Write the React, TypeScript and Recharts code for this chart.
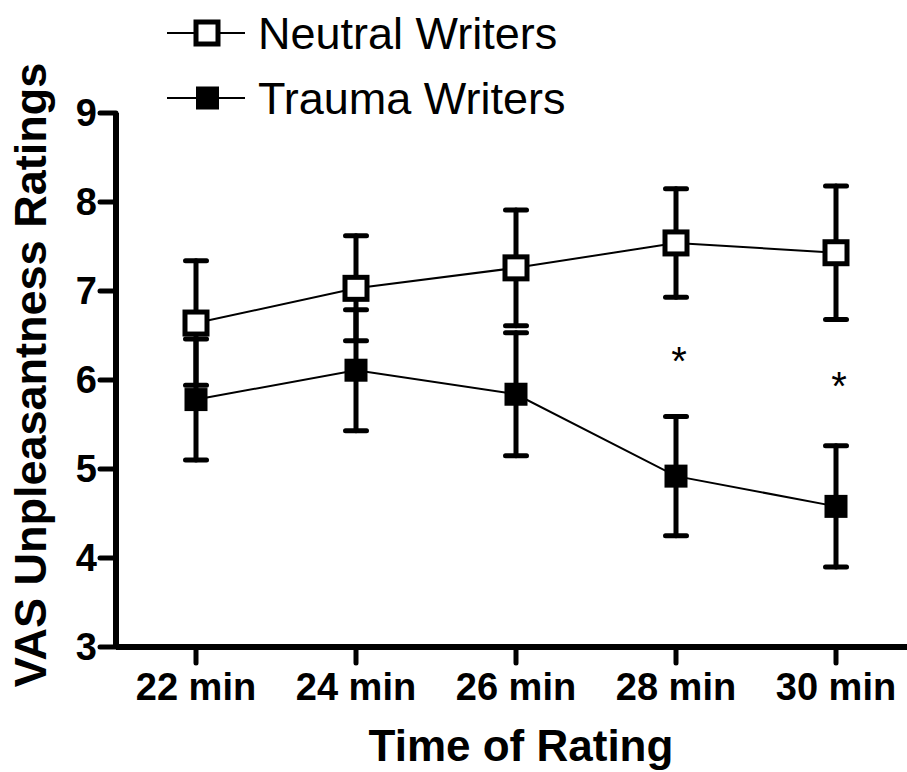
import React from 'react';
import { LineChart, Line, XAxis, YAxis, ErrorBar, Legend, Label } from 'recharts';

const times = ['22 min', '24 min', '26 min', '28 min', '30 min'];
const neutralMean = [6.64, 7.03, 7.26, 7.54, 7.43];
const neutralErr = [0.70, 0.59, 0.65, 0.61, 0.75];
const traumaMean = [5.78, 6.11, 5.84, 4.92, 4.58];
const traumaErr = [0.68, 0.68, 0.69, 0.67, 0.68];
const sigMarks: (number | null)[] = [null, null, null, 6.32, 6.03];
const yTicks = [3, 4, 5, 6, 7, 8, 9];
const seriesNames = ['Neutral Writers', 'Trauma Writers'];

const data = times.map((t, i) => ({
  time: t,
  neutral: neutralMean[i],
  neutralErr: neutralErr[i],
  trauma: traumaMean[i],
  traumaErr: traumaErr[i],
  sig: sigMarks[i],
}));

const FONT = '"Liberation Sans", Arial, Helvetica, sans-serif';

const OpenSquare = (props: any) => {
  const { cx, cy } = props;
  if (cx == null || cy == null) return null;
  return <rect x={cx - 11} y={cy - 11} width={22} height={22} fill="#fff" stroke="#000" strokeWidth={5} />;
};

const FilledSquare = (props: any) => {
  const { cx, cy } = props;
  if (cx == null || cy == null) return null;
  return <rect x={cx - 11.5} y={cy - 11.5} width={23} height={23} fill="#000" stroke="none" />;
};

const Star = (props: any) => {
  const { cx, cy, value } = props;
  if (cx == null || cy == null || value == null) return null;
  return (
    <text x={cx + 3} y={cy + 23} textAnchor="middle" fontFamily={FONT} fontSize={40} fill="#000">
      *
    </text>
  );
};

const LegendContent = () => (
  <svg width={460} height={130} style={{ display: 'block' }}>
    {seriesNames.map((name, i) => {
      const y = 33 + i * 65;
      return (
        <g key={name}>
          <line x1={17} x2={95} y1={y} y2={y} stroke="#000" strokeWidth={2} />
          {i === 0 ? (
            <rect x={46} y={y - 11} width={22} height={22} fill="#fff" stroke="#000" strokeWidth={5} />
          ) : (
            <rect x={46} y={y - 11.5} width={23} height={23} fill="#000" />
          )}
          <text x={108} y={y + 16} fontFamily={FONT} fontSize={45} fill="#000">
            {name}
          </text>
        </g>
      );
    })}
  </svg>
);

export default function App() {
  return (
    <div style={{ position: 'absolute', left: 0, top: 0, width: 907, height: 772, background: '#fff' }}>
      <LineChart width={907} height={772} data={data} margin={{ top: 113, right: 0, bottom: 0, left: 0 }}>
        <XAxis
          dataKey="time"
          padding={{ left: 80, right: 71 }}
          height={125}
          axisLine={{ stroke: '#000', strokeWidth: 6 }}
          tickLine={{ stroke: '#000', strokeWidth: 5, strokeLinecap: 'round' }}
          tickSize={16}
          tickMargin={10}
          tick={{ fill: '#000', fontSize: 38, fontWeight: 'bold', fontFamily: FONT }}
        >
          <Label
            content={() => (
              <text x={521} y={761} textAnchor="middle" fontFamily={FONT} fontWeight="bold" fontSize={44} fill="#000">
                Time of Rating
              </text>
            )}
          />
        </XAxis>
        <YAxis
          width={116}
          domain={[3, 9]}
          ticks={yTicks}
          interval={0}
          axisLine={{ stroke: '#000', strokeWidth: 6 }}
          tickLine={{ stroke: '#000', strokeWidth: 5, strokeLinecap: 'round' }}
          tickSize={16}
          tickMargin={3}
          tick={{ fill: '#000', fontSize: 38, fontWeight: 'bold', fontFamily: FONT }}
        >
          <Label
            content={() => (
              <text
                x={46}
                y={375}
                transform="rotate(-90, 46, 375)"
                textAnchor="middle"
                fontFamily={FONT}
                fontWeight="bold"
                fontSize={45}
                fill="#000"
              >
                VAS Unpleasantness Ratings
              </text>
            )}
          />
        </YAxis>
        <Legend
          layout="vertical"
          align="center"
          verticalAlign="middle"
          wrapperStyle={{ top: 0, left: 150, width: 460, height: 130 }}
          content={() => <LegendContent />}
        />
        <Line
          dataKey="neutral"
          name={seriesNames[0]}
          stroke="#000"
          strokeWidth={2}
          dot={<OpenSquare />}
          activeDot={false}
          isAnimationActive={false}
        >
          <ErrorBar dataKey="neutralErr" width={10.5} stroke="#000" strokeWidth={5} strokeLinecap="round" direction="y" />
        </Line>
        <Line
          dataKey="trauma"
          name={seriesNames[1]}
          stroke="#000"
          strokeWidth={2}
          dot={<FilledSquare />}
          activeDot={false}
          isAnimationActive={false}
        >
          <ErrorBar dataKey="traumaErr" width={10.5} stroke="#000" strokeWidth={5} strokeLinecap="round" direction="y" />
        </Line>
        <Line
          dataKey="sig"
          stroke="none"
          legendType="none"
          dot={<Star />}
          activeDot={false}
          isAnimationActive={false}
        />
      </LineChart>
    </div>
  );
}
